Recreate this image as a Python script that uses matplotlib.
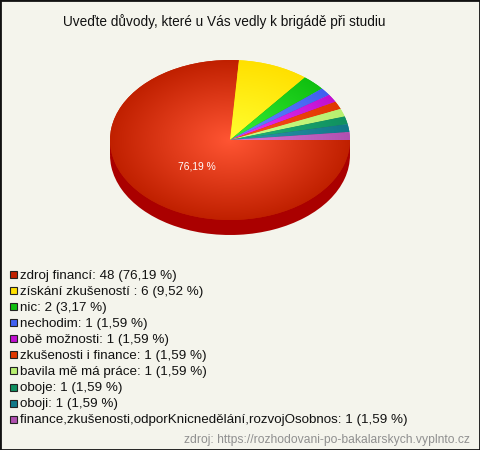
import numpy as np
import matplotlib
matplotlib.use('Agg')
import matplotlib.pyplot as plt
from matplotlib.colors import to_rgb
from matplotlib.patches import Rectangle

title = 'Uveďte důvody, které u Vás vedly k brigádě při studiu'
source = 'zdroj: https://rozhodovani-po-bakalarskych.vyplnto.cz'
labels = ['zdroj financí', 'získání zkušeností ', 'nic', 'nechodim', 'obě možnosti',
          'zkušenosti i finance', 'bavila mě má práce', 'oboje', 'oboji',
          'finance,zkušenosti,odporKnicnedělání,rozvojOsobnos']
counts = [48, 6, 2, 1, 1, 1, 1, 1, 1, 1]
edge_colors = ['#c02000', '#ffe000', '#10c010', '#4060f0', '#c010d0',
               '#e03800', '#b8f070', '#109060', '#107888', '#b050b0']
light_colors = ['#ff5533', '#ffff30', '#38f038', '#6888ff', '#e838f8',
                '#ff5020', '#d0ff88', '#20b878', '#3098b0', '#d878d8']

plt.rcParams['font.family'] = ['Liberation Sans', 'DejaVu Sans']
W, H = 480, 450
bg = '#f4f4ec'
fig = plt.figure(figsize=[W / 100, H / 100], dpi=100, facecolor=bg)

# pie axes: unit circle squashed to 120x80 px around (230,140)
depth = 15 / 80
ax = fig.add_axes([110 / W, 1 - 220 / H, 240 / W, 160 / H])

# side of the 3d pie
ax.pie(counts, colors=['#aa0000'] * len(counts), center=(0, -depth), counterclock=False, startangle=0)
ax.add_patch(Rectangle((-1, -depth), 2, depth, color='#aa0000', lw=0))

# top of the pie, each slice filled by a radial gradient
wedges, _ = ax.pie(counts, colors=edge_colors, counterclock=False, startangle=0)
yy, xx = np.mgrid[-1:1:400j, -1:1:400j]
r = np.clip(np.sqrt(xx ** 2 + yy ** 2), 0, 1)[:, :, None]
for w, c1, c2 in zip(wedges, light_colors, edge_colors):
    grad = np.array(to_rgb(c1)) * (1 - r) + np.array(to_rgb(c2)) * r
    im = ax.imshow(grad, extent=(-1, 1, -1, 1), origin='lower', aspect='auto', zorder=2)
    im.set_clip_path(w)

ax.set_aspect('auto')
ax.set_xlim(-1, 1)
ax.set_ylim(-1, 1)
ax.set_clip_on(False)
ax.text(-0.275, -0.335, '76,19 %', color='white', fontsize=7.4, ha='center', va='center', zorder=3)

fig.text(224.5 / W, 1 - 22 / H, title, fontsize=9.83, ha='center', va='center', color='#111111')

# legend drawn by hand, one row per answer
total = sum(counts)
for i, (lab, n, c) in enumerate(zip(labels, counts, edge_colors)):
    y = 274.5 + i * 16.08
    fig.add_artist(Rectangle((9.5 / W, 1 - (y + 3.5) / H), 7 / W, 7 / H, transform=fig.transFigure,
                             facecolor=c, edgecolor='#222222', lw=0.8))
    pct = ('%.2f' % (100 * n / total)).replace('.', ',')
    fig.text(20 / W, 1 - (y + 1) / H, '%s: %d (%s %%)' % (lab, n, pct), fontsize=9.6, ha='left', va='center', color='#111111')

fig.text(470 / W, 1 - 440 / H, source, fontsize=8.7, ha='right', va='center', color='#909090')

# dark frame round the picture
fig.add_artist(Rectangle((0, 0), 1, 1, transform=fig.transFigure, fill=False, edgecolor='#111111', lw=2))

fig.savefig('out.png', dpi=100, facecolor=bg)
